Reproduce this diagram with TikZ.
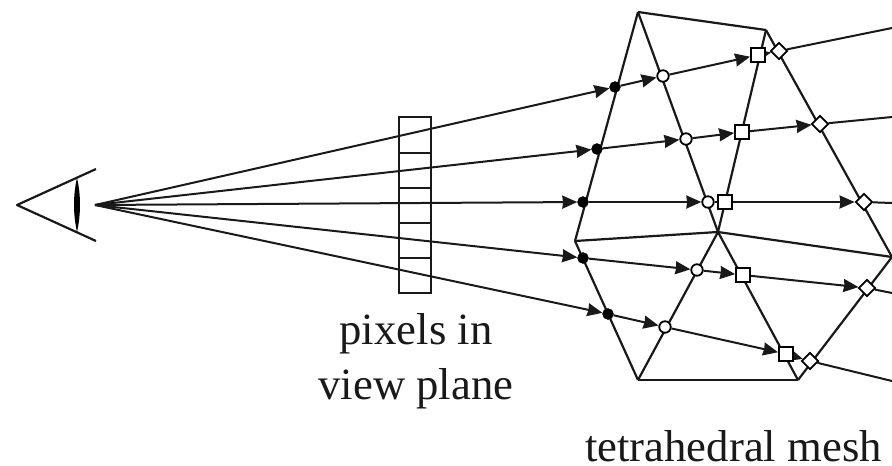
\documentclass[tikz,border=0pt]{standalone}
\usepackage{fontspec}
\setmainfont{Liberation Serif}
\usetikzlibrary{arrows.meta,shapes.geometric,backgrounds}
\tikzset{
  wire/.style={line width=2.2pt,line join=round,black!90},
  ray/.style={line width=2pt,black!90,-{Stealth[length=15pt,width=13pt,inset=0.8pt]}},
  rayend/.style={line width=2pt,black!90},
  hit/.style={circle,fill=black,draw=black,inner sep=0pt,minimum size=11pt},
  cmark/.style={circle,fill=white,draw=black,line width=1.8pt,inner sep=0pt,minimum size=11.5pt},
  smark/.style={rectangle,fill=white,draw=black,line width=1.8pt,inner sep=0pt,minimum size=14pt},
  dmark/.style={diamond,aspect=1,fill=white,draw=black,line width=1.8pt,inner sep=0pt,minimum size=17pt},
  cell/.style={line width=1.8pt,black!90},
  lbl/.style={font=\fontsize{44.7}{55}\selectfont,text=black!90,inner sep=0pt}
}
\begin{document}
\begin{tikzpicture}[x=1pt,y=-1pt]
\useasboundingbox (0,0) rectangle (892,466);
% mesh vertices
\coordinate (A) at (638,12);
\coordinate (B) at (766,30);
\coordinate (L) at (575,241);
\coordinate (C) at (718,232);
\coordinate (R) at (892,257);
\coordinate (BL) at (638,380);
\coordinate (BR) at (798,380);
% eye
\coordinate (E) at (95,205);
\coordinate (Ea) at (17,205);
\coordinate (Eu) at (96,169);
\coordinate (Ed) at (96,241);
\coordinate (Lu) at (77,178);
\coordinate (Ld) at (77,232);
% ray ends
\coordinate (e1) at (892,28);
\coordinate (e2) at (892,117);
\coordinate (e3) at (892,203);
\coordinate (e4) at (892,293);
\coordinate (e5) at (892,381);
% pixel strip
\coordinate (Pa) at (399,117);
\coordinate (Pb) at (431,293);
\foreach \i/\y in {1/153,2/188,3/223,4/258}{
  \coordinate (pl\i) at (399,\y);
  \coordinate (pr\i) at (431,\y);
}
% markers
\node[hit] (h1) at (615,87) {};
\node[hit] (h2) at (597,149) {};
\node[hit] (h3) at (583,202) {};
\node[hit] (h4) at (583,258) {};
\node[hit] (h5) at (608,314) {};
\node[cmark] (c1) at (663,76) {};
\node[cmark] (c2) at (686,139) {};
\node[cmark] (c3) at (708,202) {};
\node[cmark] (c4) at (697,270) {};
\node[cmark] (c5) at (665,327) {};
\node[smark] (s1) at (758,55) {};
\node[smark] (s2) at (742,132) {};
\node[smark] (s3) at (725,202) {};
\node[smark] (s4) at (743,275) {};
\node[smark] (s5) at (786,354) {};
\node[dmark] (d1) at (779,51) {};
\node[dmark] (d2) at (820,124) {};
\node[dmark] (d3) at (864,202) {};
\node[dmark] (d4) at (867,288) {};
\node[dmark] (d5) at (810,361) {};
\begin{scope}[on background layer]
  % eye
  \draw[wire] (Eu) -- (Ea) -- (Ed);
  \fill[black] (Lu) .. controls (73,195) and (73,214) .. (Ld) .. controls (81,214) and (81,195) .. (Lu);
  % rays
  \foreach \i in {1,...,5}{
    \draw[ray] (E) -- (h\i);
    \draw[ray] (h\i) -- (c\i);
    \draw[rayend] (d\i) -- (e\i);
  }
  \draw[ray] (c1) -- (s1);
  \draw[ray] (s1) -- (d1);
  \draw[ray] (c2) -- (s2);
  \draw[ray] (s2) -- (d2);
  \draw[rayend] (c3) -- (s3);
  \draw[ray] (s3) -- (d3);
  \draw[ray] (c4) -- (s4);
  \draw[ray] (s4) -- (d4);
  \draw[ray] (c5) -- (s5);
  \draw[ray] (s5) -- (d5);
  % pixels
  \draw[cell,line width=2.2pt] (Pa) rectangle (Pb);
  \foreach \i in {1,2,3,4}{\draw[cell] (pl\i) -- (pr\i);}
  % mesh
  \draw[wire] (A) -- (B);
  \draw[wire] (A) -- (L);
  \draw[wire] (A) -- (C);
  \draw[wire] (B) -- (C);
  \draw[wire] (B) -- (R);
  \draw[wire] (L) -- (C);
  \draw[wire] (C) -- (R);
  \draw[wire] (L) -- (BL);
  \draw[wire] (BL) -- (C);
  \draw[wire] (C) -- (BR);
  \draw[wire] (BL) -- (BR);
  \draw[wire] (BR) -- (R);
\end{scope}
\node[lbl,align=center] (pix) at (416,361.5) {pixels in\\view plane};
\node[lbl,anchor=base] (mesh) at (733.5,461.5) {tetrahedral mesh};
\end{tikzpicture}
\end{document}
